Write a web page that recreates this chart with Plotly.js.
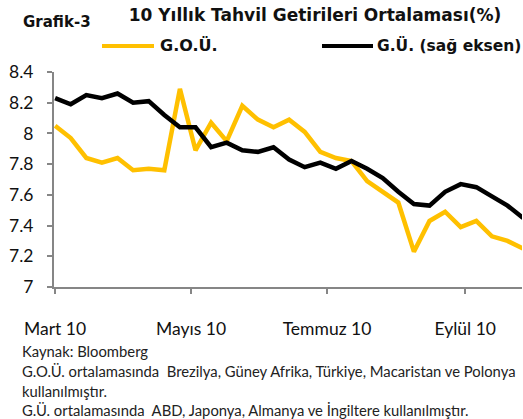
<!DOCTYPE html>
<html>
<head>
<meta charset="utf-8">
<script src="https://cdn.plot.ly/plotly-3.0.1.min.js"></script>
<style>html,body{margin:0;padding:0;background:#fff;}#chart{width:523px;height:419px;}</style>
</head>
<body>
<div id="chart"></div>
<script>
// Weekly observations, starting 1 March 2010
const startDate = "2010-03-01";
const goeuValues = [8.05, 7.97, 7.84, 7.81, 7.84, 7.76, 7.77, 7.76, 8.29, 7.89, 8.07, 7.95, 8.18, 8.09, 8.04, 8.09, 8.01, 7.88, 7.84, 7.82, 7.69, 7.62, 7.55, 7.23, 7.43, 7.49, 7.39, 7.43, 7.33, 7.30, 7.25];
const gueValues = [8.23, 8.19, 8.25, 8.23, 8.26, 8.20, 8.21, 8.12, 8.04, 8.04, 7.91, 7.94, 7.89, 7.88, 7.91, 7.83, 7.78, 7.81, 7.77, 7.82, 7.77, 7.71, 7.62, 7.54, 7.53, 7.62, 7.67, 7.65, 7.59, 7.53, 7.45];
const seriesNames = ["G.O.Ü.", "G.Ü. (sağ eksen)"];
const tickDates = ["2010-03-01", "2010-05-01", "2010-07-01", "2010-09-01"];
const tickLabels = ["Mart 10", "Mayıs 10", "Temmuz 10", "Eylül 10"];
const titleText = "10 Yıllık Tahvil Getirileri Ortalaması(%)";
const chartLabel = "Grafik-3";
const footnotes = [
  "Kaynak: Bloomberg",
  "G.O.Ü. ortalamasında  Brezilya, Güney Afrika, Türkiye, Macaristan ve Polonya",
  "kullanılmıştır.",
  "G.Ü. ortalamasında  ABD, Japonya, Almanya ve İngiltere kullanılmıştır."
];

function weeklyDates(start, n) {
  const out = [];
  const d0 = new Date(start + "T00:00:00Z");
  for (let i = 0; i < n; i++) {
    const d = new Date(d0.getTime() + i * 7 * 86400000);
    out.push(d.toISOString().slice(0, 10));
  }
  return out;
}
const dates = weeklyDates(startDate, goeuValues.length);

const W = 523, H = 419;
const mL = 54, mR = 1, mT = 72, mB = 132;
const pw = W - mL - mR, ph = H - mT - mB;
const px = x => (x - mL) / pw;          // pixel -> paper x
const py = y => (H - mB - y) / ph;      // pixel -> paper y

const FONT = "Lato, 'Open Sans', sans-serif";
const BOLD = "'DejaVu Sans', sans-serif";
const yellow = "#FFC000";

const traces = [
  {x: dates, y: goeuValues, name: seriesNames[0], type: "scatter", mode: "lines",
   line: {color: yellow, width: 4.5}, yaxis: "y", showlegend: false, hoverinfo: "skip"},
  {x: dates, y: gueValues, name: seriesNames[1], type: "scatter", mode: "lines",
   line: {color: "#000000", width: 4.5}, yaxis: "y2", showlegend: false, hoverinfo: "skip"}
];

const annotations = [
  {text: "<b>" + chartLabel + "</b>", xref: "paper", yref: "paper", x: px(21), y: py(22),
   xanchor: "left", yanchor: "middle", showarrow: false, font: {family: BOLD, size: 15, color: "#111"}},
  {text: "<b>" + seriesNames[0] + "</b>", xref: "paper", yref: "paper", x: px(158), y: py(45),
   xanchor: "left", yanchor: "middle", showarrow: false, font: {family: BOLD, size: 16, color: "#111"}},
  {text: "<b>" + seriesNames[1] + "</b>", xref: "paper", yref: "paper", x: px(375), y: py(45),
   xanchor: "left", yanchor: "middle", showarrow: false, font: {family: BOLD, size: 15.5, color: "#111"}}
];
const footY = [351, 371, 390.5, 410];
footnotes.forEach((t, i) => annotations.push({
  text: t, xref: "paper", yref: "paper", x: px(20), y: py(footY[i]),
  xanchor: "left", yanchor: "middle", showarrow: false,
  font: {family: FONT, size: 14.8, color: "#222"}
}));

const shapes = [
  {type: "line", xref: "paper", yref: "paper", x0: px(102), x1: px(154), y0: py(46), y1: py(46),
   line: {color: yellow, width: 4}},
  {type: "line", xref: "paper", yref: "paper", x0: px(322), x1: px(373), y0: py(46), y1: py(46),
   line: {color: "#000", width: 4}}
];

const layout = {
  width: W, height: H,
  margin: {l: mL, r: mR, t: mT, b: mB, pad: 0},
  paper_bgcolor: "#fff", plot_bgcolor: "#fff",
  font: {family: FONT, size: 14, color: "#222"},
  title: {text: "<b>" + titleText + "</b>", xref: "container", yref: "container",
          x: 315 / W, xanchor: "center", y: 1 - 15 / H, yanchor: "middle",
          font: {family: BOLD, size: 17, color: "#111"}},
  showlegend: false,
  xaxis: {type: "date", range: ["2010-02-28 12:00", "2010-09-26 12:00"],
          tickvals: tickDates, ticktext: tickLabels,
          showgrid: false, zeroline: false, showline: true, linecolor: "#868686", linewidth: 2,
          ticks: "outside", ticklen: 5, tickwidth: 2, tickcolor: "#868686",
          ticklabelstandoff: 20, tickfont: {family: FONT, size: 17.5, color: "#111"}, fixedrange: true},
  yaxis: {range: [7, 8.4], dtick: 0.2, tick0: 7, showgrid: false, zeroline: false,
          showline: true, linecolor: "#868686", linewidth: 2,
          ticks: "outside", ticklen: 5, tickwidth: 2, tickcolor: "#868686",
          ticklabelstandoff: 10, tickfont: {family: FONT, size: 17.5, color: "#111"}, fixedrange: true},
  yaxis2: {range: [7, 8.4], overlaying: "y", side: "right", visible: false, fixedrange: true},
  annotations: annotations,
  shapes: shapes
};

Plotly.newPlot("chart", traces, layout, {staticPlot: true, displayModeBar: false});
</script>
</body>
</html>
